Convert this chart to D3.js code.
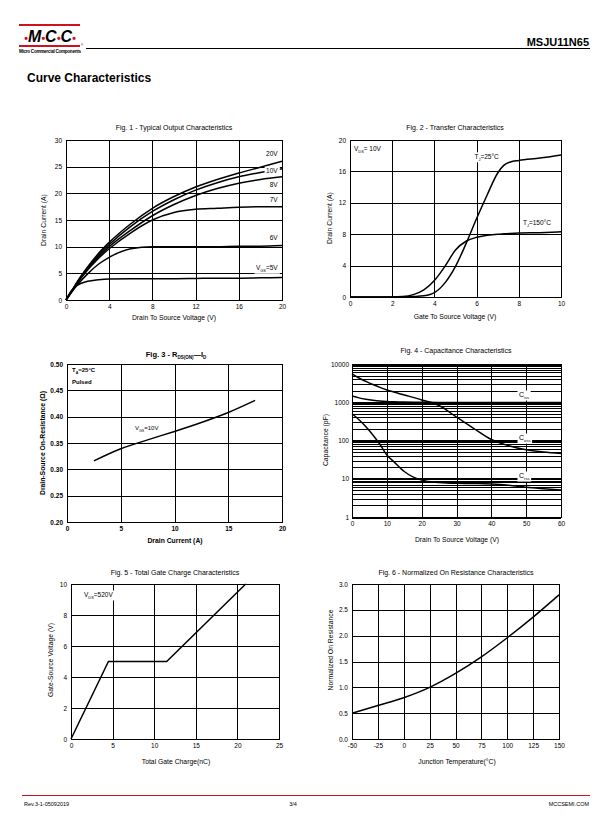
<!DOCTYPE html>
<html><head><meta charset="utf-8">
<script src="https://cdn.jsdelivr.net/npm/d3@7"></script>
<style>body{margin:0;background:#fff}svg{display:block;font-family:"Liberation Sans",Arial,sans-serif}</style>
</head><body><svg id="c" width="612" height="825"></svg>
<script>
// ---------- Fig.1 Typical Output Characteristics ----------
const fig1Vds = [0, 0.5, 1, 2, 3, 4, 6, 8, 10, 12, 14, 16, 18, 20];
const fig1Id20V = [0, 1.6, 3.3, 6.2, 8.7, 10.8, 14.3, 17.2, 19.4, 21.2, 22.6, 23.8, 24.9, 26.0];
const fig1Id10V = [0, 1.6, 3.2, 6.0, 8.4, 10.4, 13.8, 16.6, 18.8, 20.6, 22.0, 23.1, 23.9, 24.6];
const fig1Id8V  = [0, 1.5, 3.1, 5.8, 8.1, 10.0, 13.1, 15.8, 17.9, 19.6, 20.9, 21.9, 22.6, 23.1];
const fig1Id7V  = [0, 1.5, 3.0, 5.6, 7.8, 9.6, 12.6, 15.0, 16.4, 17.0, 17.2, 17.4, 17.5, 17.5];
const fig1Id6V  = [0, 1.4, 2.7, 4.9, 6.7, 8.0, 9.6, 10.0, 10.0, 10.0, 10.0, 10.1, 10.1, 10.2];
const fig1Id5V  = [0, 1.75, 2.7, 3.5, 3.8, 3.95, 4.0, 4.0, 4.0, 4.05, 4.1, 4.1, 4.15, 4.2];
const fig1XTicks = [0, 4, 8, 12, 16, 20];
const fig1YTicks = [0, 5, 10, 15, 20, 25, 30];

// ---------- Fig.2 Transfer Characteristics ----------
const fig2Vgs = [0, 1, 2, 2.5, 3, 3.5, 4, 4.5, 5, 5.5, 6, 6.5, 7, 7.3, 7.6, 8, 9, 10];
const fig2Id25C  = [0, 0, 0, 0, 0.05, 0.15, 0.55, 1.8, 3.9, 6.8, 10.0, 13.0, 15.8, 16.8, 17.2, 17.4, 17.7, 18.1];
const fig2Id150C = [0, 0, 0, 0.05, 0.3, 0.9, 2.1, 3.9, 6.0, 7.1, 7.6, 7.85, 8.0, 8.05, 8.1, 8.15, 8.2, 8.3];
const fig2XTicks = [0, 2, 4, 6, 8, 10];
const fig2YTicks = [0, 4, 8, 12, 16, 20];

// ---------- Fig.3 RDS(ON) vs ID ----------
const fig3Id  = [2.5, 5, 7.5, 10, 12.5, 15, 17.5];
const fig3Rds = [0.316, 0.339, 0.356, 0.372, 0.389, 0.408, 0.431];
const fig3XTicks = [0, 5, 10, 15, 20];
const fig3YTicks = [0.20, 0.25, 0.30, 0.35, 0.40, 0.45, 0.50];

// ---------- Fig.4 Capacitance Characteristics ----------
const fig4Vds  = [0, 2, 4, 6, 8, 10, 12, 15, 20, 25, 30, 35, 40, 45, 50, 55, 60];
const fig4Ciss = [1450, 1300, 1200, 1130, 1080, 1050, 1030, 1010, 1000, 990, 990, 985, 985, 985, 985, 985, 985];
const fig4Coss = [5500, 4300, 3500, 2900, 2450, 2100, 1850, 1550, 1150, 820, 410, 205, 106, 73, 57, 50, 46];
const fig4Crss = [500, 350, 230, 140, 80, 42, 28, 15.5, 9.2, 8.0, 7.6, 7.5, 7.3, 6.8, 6.0, 5.5, 5.1];
const fig4XTicks = [0, 10, 20, 30, 40, 50, 60];
const fig4YLabels = [1, 10, 100, 1000, 10000];

// ---------- Fig.5 Total Gate Charge ----------
const fig5Qg  = [0, 4.5, 11.5, 21];
const fig5Vgs = [0, 5, 5, 10];
const fig5XTicks = [0, 5, 10, 15, 20, 25];
const fig5YTicks = [0, 2, 4, 6, 8, 10];

// ---------- Fig.6 Normalized On Resistance ----------
const fig6Tj = [-50, -25, 0, 25, 50, 75, 100, 125, 150];
const fig6R  = [0.5, 0.65, 0.8, 1.0, 1.27, 1.59, 1.96, 2.36, 2.79];
const fig6XTicks = [-50, -25, 0, 25, 50, 75, 100, 125, 150];
const fig6YTicks = [0, 0.5, 1.0, 1.5, 2.0, 2.5, 3.0];

const FONT = '"Liberation Sans", Arial, sans-serif';
const RED = '#d0101e';
const svg = d3.select('#c');
svg.append('rect').attr('width', 612).attr('height', 825).attr('fill', '#fff');

function rich(g, x, y, parts, o = {}) {
  const size = o.size || 7;
  const t = g.append('text').attr('x', x).attr('y', y)
    .attr('font-size', size).attr('text-anchor', o.anchor || 'start')
    .attr('font-weight', o.weight || 'normal').attr('fill', '#000')
    .attr('font-family', FONT);
  if (o.rotate) t.attr('transform', `rotate(-90,${x},${y})`);
  let shifted = 0;
  parts.forEach(p => {
    const s = typeof p === 'string' ? p : p[0];
    const sub = typeof p !== 'string';
    const ts = t.append('tspan').text(s);
    if (sub) {
      const d = size * 0.3;
      ts.attr('font-size', size * 0.6).attr('dy', d - shifted);
      shifted = d;
    } else if (shifted) {
      ts.attr('dy', -shifted);
      shifted = 0;
    }
  });
  if (o.bg) {
    const b = t.node().getBBox();
    g.insert('rect', () => t.node()).attr('x', b.x - 1.5).attr('y', b.y - 0.5)
      .attr('width', b.width + 3).attr('height', b.height + 1).attr('fill', '#fff');
  }
  return t;
}

function panel(p) {
  const g = svg.append('g');
  const x = d3.scaleLinear().domain(p.xDomain).range([p.left, p.right]);
  const y = (p.yLog ? d3.scaleLog() : d3.scaleLinear()).domain(p.yDomain).range([p.bottom, p.top]);
  const w = p.right - p.left, h = p.bottom - p.top;
  const xa = g.append('g').attr('transform', `translate(0,${p.bottom})`)
    .call(d3.axisBottom(x).tickValues(p.xTicks).tickSize(-h).tickPadding(p.xPad || 4).tickFormat(p.xFmt || (d => d)));
  const ya = g.append('g').attr('transform', `translate(${p.left},0)`)
    .call(d3.axisLeft(y).tickValues(p.yTicks).tickSize(-w).tickPadding(p.yPad || 4).tickFormat(p.yFmt || (d => d)));
  [xa, ya].forEach(a => {
    a.attr('font-family', FONT).attr('font-size', 6.5);
    a.select('.domain').remove();
    a.selectAll('line').attr('stroke', '#000').attr('stroke-width', 1).attr('shape-rendering', 'crispEdges');
    a.selectAll('text').attr('fill', '#000').attr('font-weight', p.bold ? 'bold' : 'normal');
  });
  g.append('rect').attr('x', p.left).attr('y', p.top).attr('width', w).attr('height', h)
    .attr('fill', 'none').attr('stroke', '#000').attr('stroke-width', 1).attr('shape-rendering', 'crispEdges');
  g.x = x; g.y = y; g.ya = ya;
  return g;
}

function curve(g, xs, ys, kind) {
  const line = d3.line().x((d, i) => g.x(xs[i])).y(d => g.y(d)).curve(kind || d3.curveMonotoneX);
  g.append('path').attr('d', line(ys)).attr('fill', 'none').attr('stroke', '#000').attr('stroke-width', 1.5);
}

// ---------- Header ----------
svg.append('rect').attr('x', 19).attr('y', 24).attr('width', 61).attr('height', 2).attr('fill', RED);
svg.append('rect').attr('x', 19).attr('y', 45).attr('width', 61).attr('height', 2).attr('fill', RED);
const logo = svg.append('text').attr('x', 50).attr('y', 42).attr('text-anchor', 'middle')
  .attr('font-family', FONT).attr('font-weight', 'bold').attr('font-style', 'italic').attr('font-size', 16);
['•', 'M', '•', 'C', '•', 'C', '•'].forEach((c, i) => {
  logo.append('tspan').text(c).attr('fill', i % 2 === 0 ? RED : '#000').attr('font-size', i % 2 === 0 ? 11 : 16);
});
svg.append('text').attr('x', 19).attr('y', 53).attr('font-family', FONT).attr('font-weight', 'bold')
  .attr('font-size', 4.6).attr('textLength', 62).text('Micro Commercial Components');
svg.append('text').attr('x', 81).attr('y', 46).attr('font-family', FONT).attr('font-size', 3).text('®');
svg.append('line').attr('x1', 86).attr('x2', 590).attr('y1', 48.5).attr('y2', 48.5).attr('stroke', '#000').attr('stroke-width', 1);
svg.append('text').attr('x', 589).attr('y', 46).attr('text-anchor', 'end').attr('font-family', FONT)
  .attr('font-weight', 'bold').attr('font-size', 11).text('MSJU11N65');
svg.append('text').attr('x', 27).attr('y', 82).attr('font-family', FONT)
  .attr('font-weight', 'bold').attr('font-size', 12).text('Curve Characteristics');

// ---------- Footer ----------
svg.append('line').attr('x1', 22).attr('x2', 590).attr('y1', 795.5).attr('y2', 795.5).attr('stroke', RED).attr('stroke-width', 1);
svg.append('text').attr('x', 24).attr('y', 806).attr('font-family', FONT).attr('font-size', 5.5).text('Rev.3-1-05092019');
svg.append('text').attr('x', 293).attr('y', 806).attr('text-anchor', 'middle').attr('font-family', FONT).attr('font-size', 5.5).text('3/4');
svg.append('text').attr('x', 589).attr('y', 806).attr('text-anchor', 'end').attr('font-family', FONT).attr('font-size', 5.5).text('MCCSEMI.COM');

// ---------- Fig 1 ----------
{
  const g = panel({left: 66, right: 282, top: 140, bottom: 300, xDomain: [0, 20], yDomain: [0, 30],
    xTicks: fig1XTicks, yTicks: fig1YTicks});
  [fig1Id20V, fig1Id10V, fig1Id8V, fig1Id7V, fig1Id6V, fig1Id5V].forEach(s => curve(g, fig1Vds, s));
  const lx = g.x(19.6);
  rich(g, lx, g.y(27.4) + 2.3, ['20V'], {anchor: 'end', size: 6.5, bg: true});
  rich(g, lx, g.y(24.2) + 2.3, ['10V'], {anchor: 'end', size: 6.5, bg: true});
  rich(g, lx, g.y(21.7) + 2.3, ['8V'], {anchor: 'end', size: 6.5, bg: true});
  rich(g, lx, g.y(18.8) + 2.3, ['7V'], {anchor: 'end', size: 6.5, bg: true});
  rich(g, lx, g.y(11.6) + 2.3, ['6V'], {anchor: 'end', size: 6.5, bg: true});
  rich(g, lx, g.y(6.0) + 2.3, ['V', ['GS'], '=5V'], {anchor: 'end', size: 6.5, bg: true});
  rich(g, 174, 130, ['Fig. 1 - Typical Output Characteristics'], {anchor: 'middle', size: 7});
  rich(g, 174, 319.5, ['Drain To Source Voltage (V)'], {anchor: 'middle', size: 6.8});
  rich(g, 46, 220, ['Drain Current (A)'], {anchor: 'middle', size: 6.8, rotate: true});
}

// ---------- Fig 2 ----------
{
  const g = panel({left: 350, right: 561, top: 140, bottom: 297, xDomain: [0, 10], yDomain: [0, 20],
    xTicks: fig2XTicks, yTicks: fig2YTicks});
  curve(g, fig2Vgs, fig2Id25C);
  curve(g, fig2Vgs, fig2Id150C);
  rich(g, 354, 151, ['V', ['DS'], '= 10V'], {size: 6.5, bg: true});
  rich(g, g.x(5.9), g.y(17.9) + 2.3, ['T', ['J'], '=25°C'], {size: 6.5, bg: true});
  rich(g, g.x(8.2), g.y(9.5) + 2.3, ['T', ['J'], '=150°C'], {size: 6.5, bg: true});
  rich(g, 455, 130, ['Fig. 2 - Transfer Characteristics'], {anchor: 'middle', size: 7});
  rich(g, 455, 319, ['Gate To Source Voltage (V)'], {anchor: 'middle', size: 6.8});
  rich(g, 332, 218, ['Drain Current (A)'], {anchor: 'middle', size: 6.8, rotate: true});
}

// ---------- Fig 3 ----------
{
  const g = panel({left: 67, right: 282, top: 364, bottom: 522, xDomain: [0, 20], yDomain: [0.2, 0.5],
    xTicks: fig3XTicks, yTicks: fig3YTicks, yFmt: d3.format('.2f'), bold: true});
  curve(g, fig3Id, fig3Rds);
  rich(g, 72, 372, ['T', ['A'], '=25°C'], {size: 6, weight: 'bold'});
  rich(g, 72, 384, ['Pulsed'], {size: 6, weight: 'bold'});
  rich(g, 135, 430, ['V', ['GS'], '=10V'], {size: 6, bg: true});
  rich(g, 176, 357, ['Fig. 3 - R', ['DS(ON)'], '—I', ['D']], {anchor: 'middle', size: 7.5, weight: 'bold'});
  rich(g, 175, 543, ['Drain Current (A)'], {anchor: 'middle', size: 6.8, weight: 'bold'});
  rich(g, 45, 443, ['Drain-Source On-Resistance (Ω)'], {anchor: 'middle', size: 6.8, weight: 'bold', rotate: true});
}

// ---------- Fig 4 ----------
{
  const minor = [];
  [1, 10, 100, 1000].forEach(dec => { for (let k = 1; k < 10; k++) minor.push(dec * k); });
  minor.push(10000);
  const g = panel({left: 352, right: 561, top: 364, bottom: 517, xDomain: [0, 60], yDomain: [1, 10000],
    yLog: true, xTicks: fig4XTicks, yTicks: minor, yPad: 3,
    yFmt: d => fig4YLabels.includes(d) ? String(d) : ''});
  g.ya.selectAll('.tick').filter(d => fig4YLabels.includes(d)).select('line').attr('stroke-width', 2);
  curve(g, fig4Vds, fig4Ciss);
  curve(g, fig4Vds, fig4Coss);
  curve(g, fig4Vds, fig4Crss);
  rich(g, 519, 397, ['C', ['iss']], {size: 7, bg: true});
  rich(g, 519, 440, ['C', ['oss']], {size: 7, bg: true});
  rich(g, 519, 478, ['C', ['rss']], {size: 7, bg: true});
  rich(g, 456, 353, ['Fig. 4 - Capacitance Characteristics'], {anchor: 'middle', size: 7});
  rich(g, 457, 542, ['Drain To Source Voltage (V)'], {anchor: 'middle', size: 6.8});
  rich(g, 328, 440, ['Capacitance (pF)'], {anchor: 'middle', size: 6.8, rotate: true});
}

// ---------- Fig 5 ----------
{
  const g = panel({left: 71, right: 279, top: 584, bottom: 739, xDomain: [0, 25], yDomain: [0, 10],
    xTicks: fig5XTicks, yTicks: fig5YTicks});
  curve(g, fig5Qg, fig5Vgs, d3.curveLinear);
  rich(g, 84, 597, ['V', ['DS'], '=520V'], {size: 6.5, bg: true});
  rich(g, 175, 575, ['Fig. 5 - Total Gate Charge Characteristics'], {anchor: 'middle', size: 7});
  rich(g, 176, 764, ['Total Gate Charge(nC)'], {anchor: 'middle', size: 6.8});
  rich(g, 53, 660, ['Gate-Source Voltage (V)'], {anchor: 'middle', size: 6.8, rotate: true});
}

// ---------- Fig 6 ----------
{
  const g = panel({left: 352, right: 559, top: 584, bottom: 739, xDomain: [-50, 150], yDomain: [0, 3],
    xTicks: fig6XTicks, yTicks: fig6YTicks, yFmt: d3.format('.1f')});
  curve(g, fig6Tj, fig6R);
  rich(g, 456, 575, ['Fig. 6 - Normalized On Resistance Characteristics'], {anchor: 'middle', size: 7});
  rich(g, 457, 764, ['Junction Temperature(°C)'], {anchor: 'middle', size: 6.8});
  rich(g, 333, 650, ['Normalized On Resistance'], {anchor: 'middle', size: 6.8, rotate: true});
}
</script></body></html>
